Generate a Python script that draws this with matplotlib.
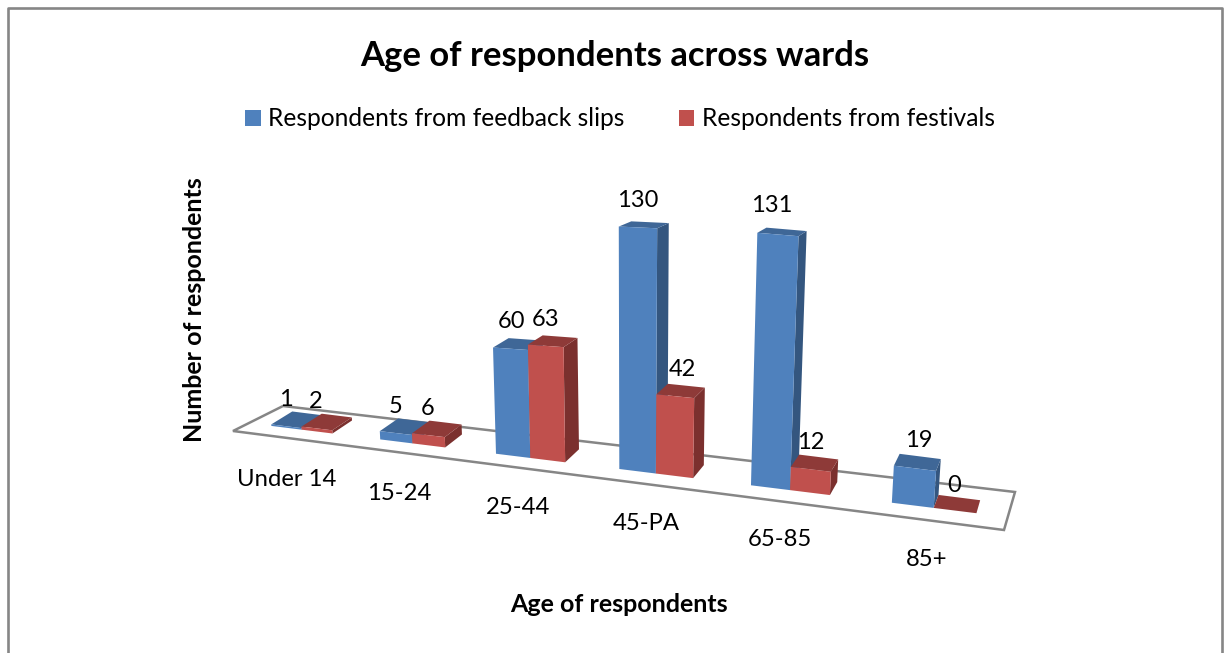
"""
Age of respondents across wards - 3D style clustered column chart
Drawn in pixel space with a small hand made perspective projection
"""

import matplotlib
matplotlib.use('Agg')
import matplotlib.pyplot as plt
from matplotlib.patches import Polygon, Patch

plt.rcParams['font.family'] = ['Lato', 'DejaVu Sans']

# Data
categories = ['Under 14', '15-24', '25-44', '45-PA', '65-85', '85+']
feedback_slips = [1, 5, 60, 130, 131, 19]
festivals = [2, 6, 63, 42, 12, 0]

series_names = ['Respondents from feedback slips', 'Respondents from festivals']

# Layout (pixels of the 1225x653 figure)
TICK_POS = [(287, 480), (399, 493), (518, 507), (646, 523), (780, 540), (927, 559)]
LABEL_NUDGE_A = [0, 0, 1, 0, -6, 4]
LABEL_NUDGE_B = [-1, -1, 0, 7, 0, -1]
LABEL_LIFT_A = [27, 27, 27, 27, 29, 28]
LABEL_LIFT_B = [27, 27, 26, 27, 27, 25]

BLUE = ('#4F81BD', '#3F6797', '#34567F')   # front, top, side
RED = ('#C0504D', '#8E3A38', '#7B302E')
GREY = '#868686'

K = 0.18           # floor foreshortening along the category axis
BAR_W = 0.0465
FIRST_BAR = 0.06
CAT_STEP = 0.1635


def base_x(u):
    return 233 + 771 * u * (1 - K) / (1 - K * u)


def base_y(x):
    return 426 + 0.1238 * (x - 272)


def lift(x, y, v):
    # verticals converge to a point far below the chart
    s = 1.95 - 1.16e-6 * (x - 890) ** 2
    h = s * v
    return x + h * (x - 630) / 4800, y - h


def depth(x, y, v):
    return x + 21 - 0.0245 * (x - 272), y - (13 - 0.06 * v)


def draw_bar(ax, u, value, colors):
    x0, x1 = base_x(u), base_x(u + BAR_W)
    y0, y1 = base_y(x0), base_y(x1)
    tl = lift(x0, y0, value)
    tr = lift(x1, y1, value)
    tl_b = depth(*tl, value)
    tr_b = depth(*tr, value)
    br_b = depth(x1, y1, 0)

    front, top, side = colors
    if value > 0:
        ax.add_patch(Polygon([(x1, y1), tr, tr_b, br_b], fc=side, ec='none', zorder=3))
    ax.add_patch(Polygon([tl, tr, tr_b, tl_b], fc=top, ec='none', zorder=3))
    if value > 0:
        ax.add_patch(Polygon([(x0, y0), (x1, y1), tr, tl], fc=front, ec='none', zorder=3))
    return (tl[0] + tr[0]) / 2, (tl[1] + tr[1]) / 2


fig = plt.figure(figsize=(12.25, 6.53), dpi=100)
ax = fig.add_axes([0, 0, 1, 1])
ax.set_xlim(0, 1225)
ax.set_ylim(653, 0)
ax.axis('off')

# Chart area frame, the bottom edge is cropped in the source
ax.plot([8, 8, 1222, 1222], [653, 8, 8, 653], color=GREY, lw=1.9, zorder=1)

# Floor
floor = [(233, 431), (283, 406), (1015, 492), (1004, 530)]
ax.add_patch(Polygon(floor, closed=True, fc='white', ec=GREY, lw=1.8, zorder=2))

# Bars, left to right so the nearer faces overlap correctly
for i, cat in enumerate(categories):
    u = FIRST_BAR + CAT_STEP * i
    xa, ya = draw_bar(ax, u, feedback_slips[i], BLUE)
    xb, yb = draw_bar(ax, u + BAR_W, festivals[i], RED)
    ax.text(xa + LABEL_NUDGE_A[i], ya - LABEL_LIFT_A[i], str(feedback_slips[i]), fontsize=17,
            ha='center', va='center', color='black', zorder=5)
    ax.text(xb + LABEL_NUDGE_B[i], yb - LABEL_LIFT_B[i], str(festivals[i]), fontsize=17,
            ha='center', va='center', color='black', zorder=5)
    ax.text(TICK_POS[i][0], TICK_POS[i][1], cat, fontsize=17.2,
            ha='center', va='center', color='black')

# Titles
ax.text(615, 56, 'Age of respondents across wards', fontsize=24.9, fontweight='bold',
        ha='center', va='center')
ax.text(619, 605, 'Age of respondents', fontsize=18, fontweight='bold',
        ha='center', va='center')
ax.text(195, 310, 'Number of respondents', fontsize=18, fontweight='bold',
        rotation=90, ha='center', va='center')

# Legend
handles = [Patch(fc=BLUE[0], ec='none'), Patch(fc=RED[0], ec='none')]
ax.legend(handles, series_names, ncol=2, frameon=False, fontsize=17.7,
          loc='center', bbox_to_anchor=(620 / 1225, 1 - 119 / 653),
          handlelength=0.64, handleheight=0.64, handletextpad=0.3,
          columnspacing=2.2, borderpad=0, borderaxespad=0)

plt.savefig('out.png', dpi=100)
